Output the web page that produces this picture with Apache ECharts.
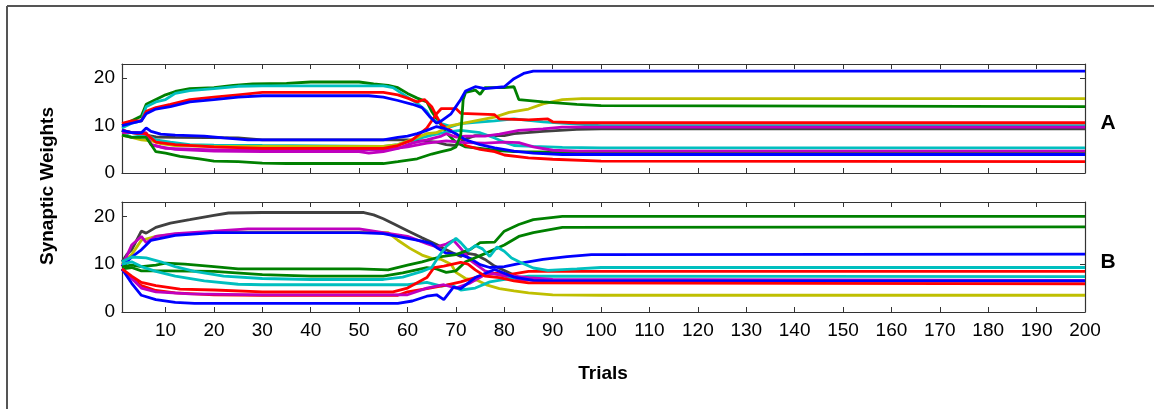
<!DOCTYPE html>
<html>
<head>
<meta charset="utf-8">
<script src="https://cdn.jsdelivr.net/npm/echarts@6/dist/echarts.min.js"></script>
<style>
html,body{margin:0;padding:0;background:#fff;}
#chart{width:1154px;height:409px;}
</style>
</head>
<body>
<div id="chart"></div>
<script>
// ---- tick labels ----
const xTicks = [10,20,30,40,50,60,70,80,90,100,110,120,130,140,150,160,170,180,190,200];
const yTicks = [0,10,20];

// ---- colours (MATLAB-like) ----
const C = {blue:'#0000ff', green:'#008000', red:'#ff0000', cyan:'#00bfbf', magenta:'#bf00bf', yellow:'#bfbf00', gray:'#404040'};

// ---- Panel A series: [trial, weight] ----
const A_green1 = [[1,10],[3,11],[5,12],[6,14.5],[8,15.5],[10,16.5],[12,17.2],[15,17.8],[20,18],[24,18.5],[28,18.8],[35,18.9],[40,19.2],[50,19.2],[53,18.8],[56,18.5],[58,18],[60,16.8],[62,15.8],[64,15],[65,13],[66,11.5],[68,8.5],[70,6.5],[72,5.5],[75,5.2],[78,4.8],[82,4.5],[90,4.4],[100,4.3],[200,4.3]];
const A_cyan1 = [[1,9.5],[3,10.5],[5,11],[6,14],[8,15],[10,15.5],[12,16.8],[15,17.4],[20,17.8],[25,18.3],[30,18.4],[55,18.4],[57,18],[60,16],[62,14.7],[64,13],[65,11.4],[67,10.4],[69,9.8],[71,10.4],[74,10.7],[78,11],[82,11.4],[88,10.8],[95,10.3],[100,10],[200,10]];
const A_red1 = [[1,10.5],[3,11],[5,11],[6,13],[8,13.8],[11,14.5],[15,15.5],[20,16],[25,16.5],[30,17],[55,17],[58,16.5],[60,15.8],[62,15],[63.5,15.5],[65,14],[66,12],[67,10.2],[69,9],[71,7.4],[72,5.8],[75,5],[78,4.5],[80,3.8],[85,3.2],[90,2.9],[100,2.5],[200,2.4]];
const A_blue1 = [[1,10],[3,10.5],[5,11],[6,12.5],[8,13.5],[11,14],[15,15],[20,15.5],[25,16],[30,16.3],[52,16.3],[55,16],[58,15.3],[61,14.5],[63,13.8],[64.5,12],[66,10.5],[67,11],[69,12.5],[70,14],[71,15.5],[72,17.3],[74,18.2],[76,17.8],[80,18.2],[82,19.9],[84,21],[86,21.5],[200,21.5]];
const A_blue2 = [[1,9],[3,8.5],[5,8.5],[6,9.5],[7,8.8],[9,8.2],[12,8],[18,7.8],[22,7.4],[27,7],[55,7],[58,7.5],[60,7.8],[62,8.3],[64,9],[66,9.8],[68,9.3],[70,8.3],[72,7],[75,6],[78,5.3],[82,4.6],[86,4.2],[92,3.9],[200,3.9]];
const A_gray = [[1,9],[3,8.5],[6,8],[8,7.6],[12,7.5],[25,7.4],[30,7],[55,7],[60,7],[63,6.8],[66,6.5],[68,6],[70,5.8],[72,7.2],[74,7.9],[80,7.9],[82,8.3],[88,8.8],[95,9.2],[100,9.3],[200,9.3]];
const A_cyan2 = [[1,9],[2,8],[3,7.5],[6,8],[8,7],[11,6.5],[15,6],[20,5.9],[30,5.8],[55,5.6],[58,6],[62,7.2],[65,8],[68,8.6],[71,9],[75,8.5],[78,7.4],[80,6.5],[82,5.8],[86,5.6],[92,5.4],[100,5.3],[200,5.3]];
const A_yellow = [[1,8],[3,7.5],[5,7],[7,6.8],[9,6.2],[12,5.8],[20,5.6],[55,5.6],[58,6],[62,7.5],[64,8.3],[66,8.5],[69,10],[74,11],[78,11.8],[81,12.8],[85,13.5],[88,14.6],[92,15.5],[96,15.7],[200,15.7]];
const A_red2 = [[1,9],[3,8.5],[6,8.3],[8,6.5],[12,6],[20,5.5],[30,5.2],[55,5.2],[58,5.8],[61,7],[64,9.5],[66,12.5],[67,13.6],[70,13.6],[71,12.6],[78,12.3],[79,11.4],[85,11.2],[89,11.4],[90,10.8],[95,10.6],[200,10.6]];
const A_magenta1 = [[1,8.5],[3,8.5],[6,8.5],[7,6],[9,5.5],[12,5],[20,4.6],[30,4.5],[50,4.5],[52,4.2],[55,4.5],[58,5.2],[61,6.3],[64,7],[67,7.8],[68,8.3],[70,7.6],[72,7.8],[76,7.8],[79,8.2],[83,9],[88,9.3],[92,9.7],[200,9.7]];
const A_magenta2 = [[1,9],[3,8.5],[6,8.2],[7,6],[10,5.2],[20,4.9],[55,4.9],[60,5.5],[64,6.3],[68,6.8],[72,6.4],[76,6.3],[80,6.5],[83,6.4],[86,5.5],[90,4.8],[95,4.6],[200,4.6]];
const A_green2 = [[1,8],[3,7.5],[6,7.5],[7,6],[8,4.5],[10,4.2],[13,3.5],[17,3],[20,2.5],[25,2.4],[30,2.1],[35,2],[55,2],[58,2.4],[62,3],[65,4],[67,4.5],[69,5],[70,5.5],[71,8],[71.5,15.5],[72,17],[74,17.5],[75,16.6],[76,18],[80,18],[82,18.2],[83,15.5],[88,15],[95,14.5],[100,14.2],[200,14]];

// ---- Panel B series ----
const B_gray = [[1,10.5],[2,12],[3,13],[5,16.9],[6,16.5],[8,17.7],[11,18.6],[15,19.3],[20,20.2],[23,20.7],[30,20.8],[51,20.8],[53,20.3],[55,19.5],[57,18.5],[60,17],[63,15.5],[66,14.1],[68,13],[69.5,12.3],[71,11.6],[72,12.3],[74,12],[76,11],[78,9.6],[81,8.2],[83,7.2],[86,6.7],[90,6.5],[200,6.5]];
const B_magenta1 = [[1,9.5],[3,14],[5,15.8],[6,14.5],[8,15.8],[12,16.4],[20,16.9],[27,17.4],[50,17.4],[55,16.6],[60,15.8],[64,14.3],[66,13.6],[68,14.2],[69.5,15],[71,13.3],[73,10.8],[76,8.6],[80,7.5],[83,6.8],[88,6.5],[200,6.5]];
const B_yellow = [[1,10],[3,12],[5,15],[8,15.8],[12,16.3],[20,16.7],[50,16.7],[56,16.6],[58,15],[60.5,13.3],[63,11.9],[65,11.2],[67,11],[69,10],[70,8.3],[72,7],[74.5,6.6],[76.5,5.6],[79,4.9],[82,4.4],[85,4],[90,3.6],[100,3.5],[200,3.5]];
const B_blue1 = [[1,9.5],[3,11.5],[5,13],[7,15],[12,16],[20,16.6],[50,16.6],[55,16.4],[59,15.6],[63,14.8],[65,14.3],[66,13.5],[68,12.3],[71,12],[73,11.2],[75,9.9],[77,9.3],[80,9.5],[84,10.3],[88,11],[93,11.6],[98,12],[200,12.1]];
const B_blue2 = [[1,9],[3,6],[5,3.5],[8,2.6],[12,2],[16,1.8],[58,1.8],[61,2.3],[64,3.3],[66,3.6],[67.5,2.6],[69.5,5.2],[71,4.9],[74,7.2],[78,8.9],[82,7.3],[86,6.6],[90,6.5],[200,6.5]];
const B_green1 = [[1,9.5],[3,9.8],[5,9.5],[8,9.8],[10,10.2],[14,10],[20,9.5],[25,9],[50,9],[56,8.8],[60,9.8],[63,10.5],[67,11.6],[70,12],[73,13.1],[75,14.5],[78,14.6],[80,16.9],[83,18.3],[86,19.3],[92,20],[200,20]];
const B_green2 = [[1,9],[3,9.3],[5,8.6],[10,8.6],[20,8.5],[30,7.8],[40,7.5],[55,7.5],[59,8.2],[64,9.3],[66,9],[68,8.3],[70,8.6],[72,10.5],[76,12.2],[80,14],[83,15.8],[86,16.6],[92,17.7],[200,17.8]];
const B_cyan1 = [[1,10.5],[3,11.5],[6,11.3],[9,10.5],[12,9.5],[16,8.5],[22,7.5],[30,7],[40,6.8],[55,6.8],[59,7.3],[63,8.5],[65,9.3],[66.5,11.7],[68,13.7],[70,15.4],[71,14.5],[72.5,12.8],[74,13.9],[75.5,13.2],[77,11.6],[78.5,13.6],[80,12.7],[81.5,11.3],[83.5,10.3],[86,9.2],[89,8.7],[95,9],[100,9.3],[200,9.3]];
const B_cyan2 = [[1,10],[3,10.5],[5,9.5],[8,8.5],[12,7.5],[18,6.5],[25,5.8],[30,5.7],[60,5.7],[64,6.2],[67,5.4],[69,5.7],[71,4.6],[74,5],[77,6.3],[81,7],[85,7.5],[200,7.4]];
const B_red1 = [[1,9],[3,7.5],[5,6.2],[8,5.5],[13,4.8],[20,4.6],[30,4.2],[57,4.2],[60,5],[64,7.2],[65.5,9.3],[67.5,9.6],[71,10.4],[72.5,10],[74,8.8],[76,7.5],[79,7.2],[82,6.5],[85,6.1],[200,5.9]];
const B_red2 = [[1,9],[3,7],[5,5.5],[8,4.5],[12,4],[20,3.6],[30,3.5],[58,3.5],[60,4.2],[64,4.9],[68,5.6],[71,6.3],[75,7.5],[78,8.1],[81,7.8],[85,8.5],[200,8.5]];
const B_magenta2 = [[1,9],[3,7],[5,5],[8,4.2],[15,3.8],[30,3.6],[60,3.6],[64,5],[67.5,5.7],[70,5],[73,6.1],[76.5,8.1],[80,7.7],[85,7.2],[90,6.8],[200,6.6]];

const panelA = [
  ['green',A_green1],['cyan',A_cyan1],['red',A_red1],['gray',A_gray],['cyan',A_cyan2],['yellow',A_yellow],
  ['magenta',A_magenta2],['magenta',A_magenta1],['red',A_red2],['blue',A_blue2],['green',A_green2],['blue',A_blue1]
];
const panelB = [
  ['gray',B_gray],['yellow',B_yellow],['magenta',B_magenta1],['blue',B_blue1],['green',B_green2],['green',B_green1],
  ['cyan',B_cyan2],['red',B_red2],['magenta',B_magenta2],['blue',B_blue2],['red',B_red1],['cyan',B_cyan1]
];

const FONT = '"Liberation Sans", Arial, sans-serif';
const AX = '#333333';

function xAx(grid, pos, labels){
  return {type:'value', gridIndex:grid, position:pos, min:1, max:200,
    axisLine:{show:true, onZero:false, lineStyle:{color:AX, width:1.2}},
    axisTick:{show:true, inside:true, length:5, customValues:xTicks, lineStyle:{color:AX}},
    axisLabel:{show:labels, customValues:xTicks, color:'#000', fontSize:19, fontFamily:FONT, margin:9},
    splitLine:{show:false}};
}
function yAx(grid, pos, labels){
  return {type:'value', gridIndex:grid, position:pos, min:0, max:23,
    axisLine:{show:true, onZero:false, lineStyle:{color:AX, width:1.2}},
    axisTick:{show:true, inside:true, length:5, customValues:yTicks, lineStyle:{color:AX}},
    axisLabel:{show:labels, customValues:yTicks, color:'#000', fontSize:19, fontFamily:FONT, margin:7},
    splitLine:{show:false}};
}

const series = [];
panelA.forEach(([c,d])=>series.push({type:'line', xAxisIndex:0, yAxisIndex:0, data:d, showSymbol:false, symbol:'none', lineStyle:{color:C[c], width:2.8}, itemStyle:{color:C[c]}, silent:true}));
panelB.forEach(([c,d])=>series.push({type:'line', xAxisIndex:2, yAxisIndex:2, data:d, showSymbol:false, symbol:'none', lineStyle:{color:C[c], width:2.8}, itemStyle:{color:C[c]}, silent:true}));

const chart = echarts.init(document.getElementById('chart'), null, {renderer:'canvas'});
chart.setOption({
  animation:false,
  backgroundColor:'#fff',
  grid:[
    {left:122, top:64, width:963, height:109},
    {left:122, top:202, width:963, height:110}
  ],
  xAxis:[xAx(0,'bottom',false), xAx(0,'top',false), xAx(1,'bottom',true), xAx(1,'top',false)],
  yAxis:[yAx(0,'left',true), yAx(0,'right',false), yAx(1,'left',true), yAx(1,'right',false)],
  series: series,
  graphic:[
    {type:'line', shape:{x1:7, y1:6, x2:1154, y2:6}, style:{stroke:'#555', lineWidth:2}},
    {type:'line', shape:{x1:7, y1:6, x2:7, y2:409}, style:{stroke:'#555', lineWidth:2}},
    {type:'text', x:48, y:186, rotation:Math.PI/2, style:{text:'Synaptic Weights', font:'bold 19px '+FONT, fill:'#000', textAlign:'center', textVerticalAlign:'middle'}},
    {type:'text', x:603, y:374, style:{text:'Trials', font:'bold 19px '+FONT, fill:'#000', textAlign:'center', textVerticalAlign:'middle'}},
    {type:'text', x:1108, y:123, style:{text:'A', font:'bold 21px '+FONT, fill:'#000', textAlign:'center', textVerticalAlign:'middle'}},
    {type:'text', x:1108, y:262, style:{text:'B', font:'bold 21px '+FONT, fill:'#000', textAlign:'center', textVerticalAlign:'middle'}}
  ]
});
</script>
</body>
</html>
